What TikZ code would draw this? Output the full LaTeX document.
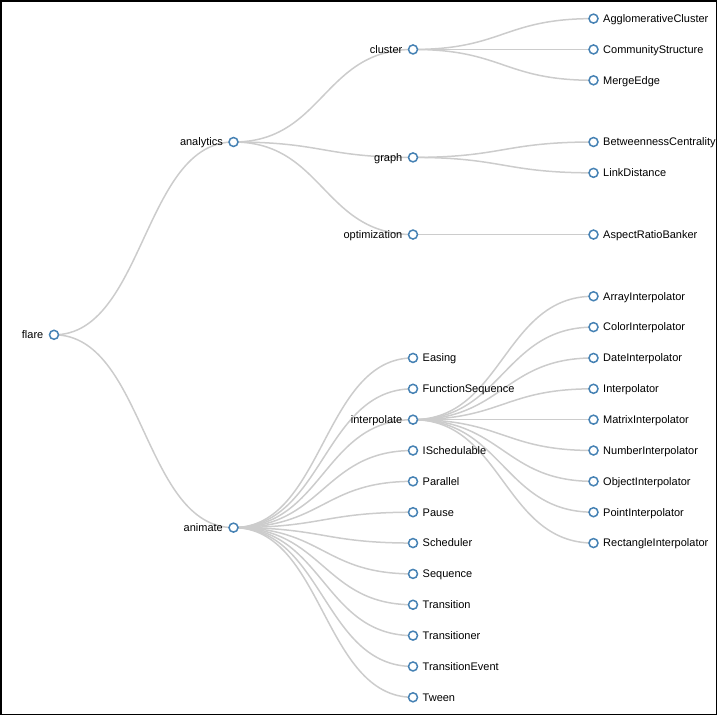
\documentclass[tikz,border=0pt]{standalone}
\usepackage{fontspec}
\setmainfont{Liberation Sans}
\definecolor{steel}{RGB}{70,130,180}
\definecolor{linkgray}{RGB}{204,204,204}
\pgfdeclarelayer{bg}
\pgfsetlayers{bg,main}

\begin{document}
\begin{tikzpicture}[x=1pt, y=-1pt, font=\fontsize{11}{13}\selectfont,
      dot/.style={circle, draw=steel, fill=white, line width=1.5pt, minimum size=9pt, inner sep=0pt, outer sep=0pt},
      txt/.style={inner sep=0pt, text height=7.7pt, text depth=0pt},
      branchnode/.style={dot, label={[txt, label distance=6pt]left:#1}},
      leafnode/.style={dot, label={[txt, label distance=5pt]right:#1}},
      link/.style={draw=linkgray, line width=1.5pt}]
    \useasboundingbox (0,0) rectangle (718,716);
    \begin{scope}
    \clip (1.5,1.5) rectangle (715.5,713.5);
    % root and first level
    \node[branchnode=flare] (flare) at (54,334.8) {};
    \node[branchnode=analytics] (analytics) at (233.5,142) {};
    \node[branchnode=animate] (animate) at (233.5,527.6) {};
    % analytics
    \node[branchnode=cluster] (cluster) at (413,49.45) {};
    \node[branchnode=graph] (graph) at (413,157.4) {};
    \node[branchnode=optimization] (optimization) at (413,234.55) {};
    \node[leafnode=AgglomerativeCluster] (agglom) at (593.5,18.6) {};
    \node[leafnode=CommunityStructure] (community) at (593.5,49.45) {};
    \node[leafnode=MergeEdge] (merge) at (593.5,80.3) {};
    \node[leafnode=BetweennessCentrality] (between) at (593.5,142) {};
    \node[leafnode=LinkDistance] (linkdist) at (593.5,172.85) {};
    \node[leafnode=AspectRatioBanker] (aspect) at (593.5,234.55) {};
    % animate
    \node[leafnode=Easing] (easing) at (413,357.95) {};
    \node[leafnode=FunctionSequence] (funcseq) at (413,388.8) {};
    \node[branchnode=interpolate] (interpolate) at (413,419.65) {};
    \node[leafnode=ISchedulable] (isched) at (413,450.5) {};
    \node[leafnode=Parallel] (parallel) at (413,481.35) {};
    \node[leafnode=Pause] (pause) at (413,512.2) {};
    \node[leafnode=Scheduler] (scheduler) at (413,543.05) {};
    \node[leafnode=Sequence] (sequence) at (413,573.9) {};
    \node[leafnode=Transition] (transition) at (413,604.75) {};
    \node[leafnode=Transitioner] (transitioner) at (413,635.6) {};
    \node[leafnode=TransitionEvent] (transevent) at (413,666.45) {};
    \node[leafnode=Tween] (tween) at (413,697.3) {};
    % interpolate
    \node[leafnode=ArrayInterpolator] (arrayi) at (593.5,296.25) {};
    \node[leafnode=ColorInterpolator] (colori) at (593.5,327.1) {};
    \node[leafnode=DateInterpolator] (datei) at (593.5,357.95) {};
    \node[leafnode=Interpolator] (interp) at (593.5,388.8) {};
    \node[leafnode=MatrixInterpolator] (matrixi) at (593.5,419.65) {};
    \node[leafnode=NumberInterpolator] (numberi) at (593.5,450.5) {};
    \node[leafnode=ObjectInterpolator] (objecti) at (593.5,481.35) {};
    \node[leafnode=PointInterpolator] (pointi) at (593.5,512.2) {};
    \node[leafnode=RectangleInterpolator] (recti) at (593.5,543.05) {};
    \end{scope}
    \begin{pgfonlayer}{bg}
    \foreach \a/\b in {flare/analytics, flare/animate,
        analytics/cluster, analytics/graph, analytics/optimization,
        cluster/agglom, cluster/community, cluster/merge,
        graph/between, graph/linkdist, optimization/aspect,
        animate/easing, animate/funcseq, animate/interpolate, animate/isched,
        animate/parallel, animate/pause, animate/scheduler, animate/sequence,
        animate/transition, animate/transitioner, animate/transevent, animate/tween,
        interpolate/arrayi, interpolate/colori, interpolate/datei, interpolate/interp,
        interpolate/matrixi, interpolate/numberi, interpolate/objecti,
        interpolate/pointi, interpolate/recti}
      \draw[link] (\a.center) .. controls +(90,0) and +(-90,0) .. (\b.center);
    \end{pgfonlayer}
    \draw[line width=1.5pt] (0.75,0.75) rectangle (716.3,714.3);
\end{tikzpicture}
\end{document}
